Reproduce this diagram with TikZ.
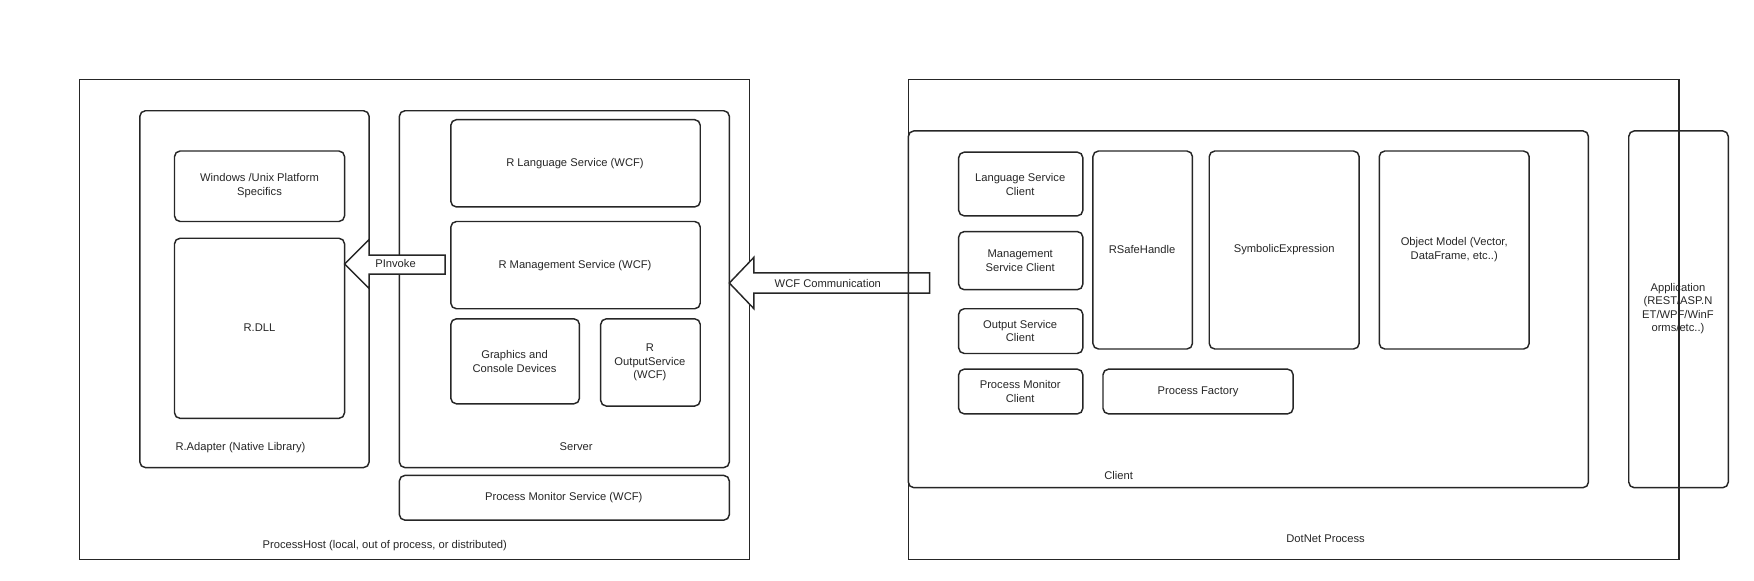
\documentclass[tikz,border=0pt]{standalone}
\usepackage{fontspec}
\setmainfont{Liberation Sans}
\begin{document}
\begin{tikzpicture}[x=1pt,y=-1pt,
  box/.style={draw=black!85,line width=1.3pt,rounded corners=5pt},
  outer/.style={draw=black!85,line width=1.3pt},
  lbl/.style={font=\fontsize{10}{12}\selectfont,align=center,text=black!85},
  arr/.style={draw=black!85,line width=1.3pt,fill=white}]
\useasboundingbox (0,0) rectangle (1568,518.6);
% left
\draw[outer] (71,71) rectangle (670,500);
\node[lbl] (ph) at (344,488) {ProcessHost (local, out of process, or distributed)};
\draw[box] (125,99) rectangle (330,418);
\node[lbl] (ra) at (215,400) {R.Adapter (Native Library)};
\draw[box] (156,135) rectangle (308,198);
\node[lbl] (win) at (232,166) {Windows /Unix Platform\\Specifics};
\draw[box] (156,213) rectangle (308,374);
\node[lbl] (rdll) at (232,293) {R.DLL};
\draw[box] (357,99) rectangle (652,418);
\node[lbl] (srv) at (515,399) {Server};
\draw[box] (403,107) rectangle (626,185);
\node[lbl] (rls) at (514,146) {R Language Service (WCF)};
\draw[box] (403,198) rectangle (626,276);
\node[lbl] (rms) at (514,237) {R Management Service (WCF)};
\draw[box] (403,285) rectangle (518,361);
\node[lbl] (gcd) at (460,323) {Graphics and\\Console Devices};
\draw[box] (537,285) rectangle (626,363);
\node[lbl] (ros) at (581,324) {R\\OutputService\\(WCF)};
\draw[box] (357,425) rectangle (652,465);
\node[lbl] (pms) at (504,445) {Process Monitor Service (WCF)};
% PInvoke arrow
\draw[arr] (308,236) -- (330,214) -- (330,228) -- (398,228) -- (398,245) -- (330,245) -- (330,258) -- cycle;
\node[lbl,anchor=west] (pinv) at (332,236) {PInvoke};
% WCF arrow
\draw[arr] (652,253) -- (674,230) -- (674,244) -- (831,244) -- (831,262) -- (674,262) -- (674,276) -- cycle;
\node[lbl,anchor=west] (wcf) at (689,253) {WCF Communication};
% right
\draw[outer] (812,71) rectangle (1501,500);
\node[lbl] (dnp) at (1185,482) {DotNet Process};
\draw[box] (812,117) rectangle (1420,436);
\node[lbl] (cl) at (1000,425) {Client};
\draw[box] (857,136) rectangle (968,193);
\node[lbl] (lsc) at (912,165) {Language Service\\Client};
\draw[box] (857,207) rectangle (968,259);
\node[lbl] (msc) at (912,233) {Management\\Service Client};
\draw[box] (857,276) rectangle (968,316);
\node[lbl] (osc) at (912,296) {Output Service\\Client};
\draw[box] (857,330) rectangle (968,370);
\node[lbl] (pmc) at (912,350) {Process Monitor\\Client};
\draw[box] (977,135) rectangle (1066,312);
\node[lbl] (rsh) at (1021,223) {RSafeHandle};
\draw[box] (1081,135) rectangle (1215,312);
\node[lbl] (se) at (1148,223) {SymbolicExpression};
\draw[box] (1233,135) rectangle (1367,312);
\node[lbl] (om) at (1300,223) {Object Model (Vector,\\DataFrame, etc..)};
\draw[box] (986,330) rectangle (1156,370);
\node[lbl] (pf) at (1071,350) {Process Factory};
\draw[box] (1456,117) rectangle (1545,436);
\node[lbl] (app) at (1500,276) {Application\\(REST/ASP.N\\ET/WPF/WinF\\orms/etc..)};
\end{tikzpicture}
\end{document}
